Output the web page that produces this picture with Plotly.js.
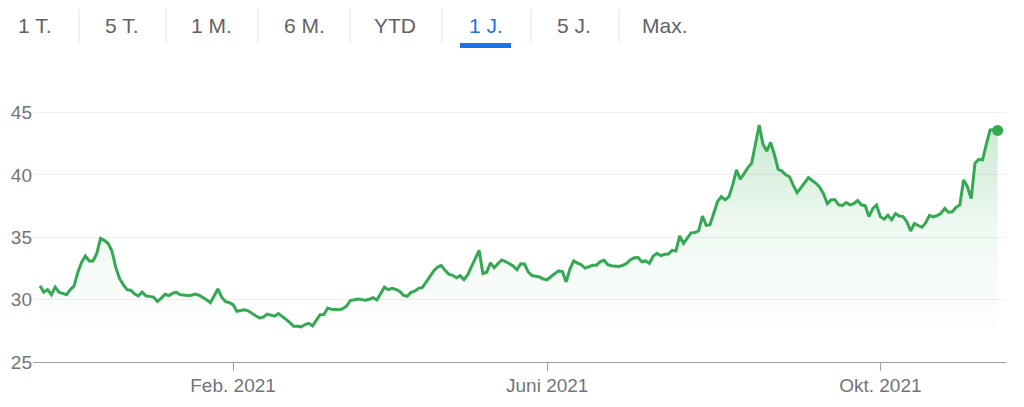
<!DOCTYPE html>
<html><head><meta charset="utf-8">
<script src="https://cdn.plot.ly/plotly-3.0.1.min.js"></script>
<style>html,body{margin:0;padding:0;background:#fff;}#chart{width:1024px;height:407px;}</style>
</head><body><div id="chart"></div>
<script>
// ---- data ----
const startDate = '2020-11-16';
const endDate = '2021-11-15';
const holidays = ['2020-12-24','2020-12-25','2020-12-31','2021-01-01','2021-04-02','2021-04-05','2021-05-24'];
const prices = [
 31.1,30.6,30.8,30.4,31.0,30.6,30.5,30.4,30.8,31.1,
 32.2,33.0,33.5,33.1,33.1,33.7,34.9,34.75,34.5,33.9,
 32.6,31.7,31.2,30.8,30.75,30.45,30.3,30.6,30.3,30.25,
 30.2,29.85,30.1,30.43,30.33,30.5,30.6,30.4,30.35,30.33,
 30.35,30.45,30.35,30.2,30.0,29.75,30.3,30.85,30.2,29.85,
 29.75,29.6,29.07,29.13,29.18,29.1,28.87,28.7,28.53,28.6,
 28.84,28.78,28.68,28.88,28.67,28.42,28.15,27.86,27.86,27.82,
 28.0,28.1,27.9,28.3,28.79,28.8,29.33,29.22,29.19,29.19,
 29.27,29.5,29.93,30.0,30.05,30.0,29.95,30.03,30.15,29.97,
 30.45,31.0,30.8,30.9,30.82,30.68,30.35,30.26,30.58,30.68,
 30.9,30.97,31.4,31.9,32.3,32.6,32.75,32.35,32.04,31.95,
 31.75,31.92,31.6,32.0,32.65,33.2,33.95,32.1,32.2,32.95,
 32.56,32.9,33.18,33.05,32.9,32.7,32.4,32.87,32.85,32.2,
 31.93,31.9,31.82,31.65,31.6,31.85,32.05,32.3,32.25,31.42,
 32.45,33.1,32.93,32.8,32.53,32.65,32.75,32.76,33.05,33.15,
 32.8,32.72,32.68,32.66,32.75,32.92,33.2,33.35,33.38,33.03,
 33.1,32.9,33.5,33.72,33.52,33.63,33.65,33.95,33.9,35.1,
 34.5,34.95,35.35,35.37,35.52,36.7,35.95,36.0,37.0,37.87,
 38.25,38.0,38.25,39.2,40.4,39.65,40.1,40.58,40.93,42.55,
 44.0,42.45,41.9,42.6,41.65,40.45,40.3,40.0,39.85,39.15,
 38.57,38.95,39.35,39.78,39.55,39.32,39.0,38.47,37.7,38.0,
 38.0,37.6,37.55,37.78,37.6,37.7,37.94,37.6,37.52,36.66,
 37.3,37.59,36.65,36.45,36.76,36.4,36.9,36.7,36.66,36.25,
 35.5,36.1,35.94,35.81,36.16,36.75,36.63,36.74,36.92,37.3,
 37.0,37.04,37.4,37.59,39.6,39.05,38.1,40.94,41.25,41.2,
 42.45,43.6,43.62,43.56
];
const tabLabels = ['1 T.','5 T.','1 M.','6 M.','YTD','1 J.','5 J.','Max.'];
const activeTab = '1 J.';
const yTickValues = [25,30,35,40,45];
const xTickDates = ['2021-02-01','2021-06-01','2021-10-01'];
const xTickLabels = ['Feb. 2021','Juni 2021','Okt. 2021'];

// trading calendar (weekdays without exchange holidays)
function tradingDays(a, b, hol){
  const out = [];
  const d = new Date(a + 'T00:00:00Z');
  const e = new Date(b + 'T00:00:00Z');
  while (d <= e) {
    const s = d.toISOString().slice(0,10);
    const wd = d.getUTCDay();
    if (wd !== 0 && wd !== 6 && hol.indexOf(s) < 0) out.push(s);
    d.setUTCDate(d.getUTCDate() + 1);
  }
  return out;
}
const dates = tradingDays(startDate, endDate, holidays);

// ---- layout geometry ----
const L = 33, R = 18, T = 100, B = 45;
const W = 1024 - L - R, H = 407 - T - B;
const px = v => (v - L) / W;
const py = v => (407 - B - v) / H;

const FONT = 'Liberation Sans, Arial, sans-serif';
const GREEN = '#34a853';
const BLUE = '#1a73e8';

const tabCenters = [34, 121, 211, 304, 395, 486, 574, 665];
const sepX = [79, 166, 258, 350, 442, 531, 619];

const annotations = tabLabels.map((t, i) => ({
  text: t, xref: 'paper', yref: 'paper', x: px(tabCenters[i]), y: py(25.5),
  xanchor: 'center', yanchor: 'middle', showarrow: false,
  font: {family: FONT, size: 21, color: t === activeTab ? BLUE : '#5f6368'}
}));

const shapes = sepX.map(x => ({
  type: 'line', xref: 'paper', yref: 'paper',
  x0: px(x), x1: px(x), y0: py(9), y1: py(43),
  line: {color: '#e3e3e3', width: 1}
}));
const ai = tabLabels.indexOf(activeTab);
shapes.push({
  type: 'rect', xref: 'paper', yref: 'paper',
  x0: px(tabCenters[ai] - 26), x1: px(tabCenters[ai] + 25), y0: py(48), y1: py(43),
  fillcolor: BLUE, line: {width: 0}
});

const last = prices.length - 1;
const traces = [
  {
    type: 'scatter', mode: 'lines', x: dates, y: prices,
    line: {color: GREEN, width: 3},
    fill: 'tozeroy',
    fillgradient: {type: 'vertical', start: 27, stop: 44.5,
      colorscale: [[0, 'rgba(52,168,83,0)'], [0.5, 'rgba(52,168,83,0.08)'], [1, 'rgba(52,168,83,0.27)']]},
    hoverinfo: 'x+y'
  },
  {
    type: 'scatter', mode: 'markers', x: [dates[last]], y: [prices[last]],
    marker: {color: GREEN, size: 11}, hoverinfo: 'skip'
  }
];

const layout = {
  width: 1024, height: 407,
  margin: {l: L, r: R, t: T, b: B},
  paper_bgcolor: '#fff', plot_bgcolor: '#fff',
  showlegend: false,
  font: {family: FONT, color: '#70757a'},
  xaxis: {
    type: 'category', range: [-1.85, 255.2],
    tickmode: 'array', tickvals: xTickDates.map(d => dates.indexOf(d)), ticktext: xTickLabels,
    ticks: 'outside', ticklen: 8, tickcolor: '#9aa0a6', tickwidth: 1,
    ticklabelstandoff: -2,
    showline: true, linecolor: '#9aa0a6', linewidth: 1,
    showgrid: false, zeroline: false,
    tickfont: {family: FONT, size: 19, color: '#70757a'},
    fixedrange: true
  },
  yaxis: {
    range: [25, 46], tickmode: 'array', tickvals: yTickValues,
    showgrid: true, gridcolor: '#efefef', gridwidth: 1, zeroline: false,
    ticks: '', showline: false,
    tickfont: {family: FONT, size: 19, color: '#70757a'},
    fixedrange: true
  },
  annotations: annotations,
  shapes: shapes
};

Plotly.newPlot('chart', traces, layout, {displayModeBar: false, staticPlot: true});
</script>
</body></html>
